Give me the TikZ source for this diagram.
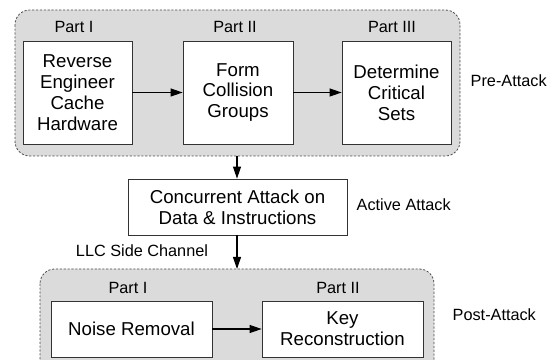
\documentclass[tikz,border=0pt]{standalone}
\usepackage{fontspec}
\setmainfont{Liberation Sans}
\usepackage{tikz}
\usetikzlibrary{arrows.meta}

\begin{document}
\begin{tikzpicture}[x=0.75pt,y=-0.75pt,
	stage/.style={draw=black!80,fill=white,line width=0.6pt,align=center,
		inner sep=0pt,font=\fontsize{14}{15.7}\selectfont},
	phase/.style={draw=black!70,fill=black!14,dash pattern=on 1.6pt off 1.3pt,
		line width=0.6pt,rounded corners=11pt},
	part/.style={font=\fontsize{12.2}{14}\selectfont},
	tag/.style={font=\fontsize{12.2}{14}\selectfont,anchor=west},
	flow/.style={-{Triangle[length=9pt,width=6pt]},line width=0.8pt}]
	\useasboundingbox (0,0) rectangle (551,360);
	\clip (0,0) rectangle (551,360);
	% Pre-Attack
	\draw [phase] (15,10) rectangle (460,156);
	\node [part] (p1) at (74,27) {Part I};
	\node [part] (p2) at (235,27) {Part II};
	\node [part] (p3) at (392,27) {Part III};
	\node [stage,minimum width=109*0.75pt,minimum height=103*0.75pt] (rev) at (77.5,92.5)
		{Reverse\\Engineer\\Cache\\Hardware};
	\node [stage,minimum width=110*0.75pt,minimum height=103*0.75pt] (form) at (238,92.5)
		{Form\\Collision\\Groups};
	\node [stage,minimum width=109*0.75pt,minimum height=103*0.75pt] (det) at (396.5,92.5)
		{Determine\\Critical\\Sets};
	\node [tag] (pre) at (466,81) {Pre-Attack};
	\coordinate (top) at (237,156);
	\draw [flow] (rev) -- (form);
	\draw [flow] (form) -- (det);
	% Active Attack
	\node [stage,minimum width=219*0.75pt,minimum height=56*0.75pt] (conc) at (237.5,207)
		{Concurrent Attack on\\Data \& Instructions};
	\node [tag] (act) at (352,205) {Active Attack};
	\draw [flow] (top) -- (conc.north -| top);
	% Post-Attack
	\draw [phase] (40,269) rectangle (434,390);
	\coordinate (bot) at (237,269);
	\draw [flow] (conc.south -| bot) -- (bot);
	\node [part] (llc) at (142,251) {LLC Side Channel};
	\node [part] (q1) at (128,288) {Part I};
	\node [part] (q2) at (338,288) {Part II};
	\node [stage,minimum width=161*0.75pt,minimum height=56*0.75pt] (noise) at (131.5,329)
		{Noise Removal};
	\node [stage,minimum width=161*0.75pt,minimum height=56*0.75pt] (key) at (342.5,329)
		{Key\\Reconstruction};
	\node [tag] (post) at (448,315) {Post-Attack};
	\draw [flow] (noise) -- (key);
\end{tikzpicture}
\end{document}
